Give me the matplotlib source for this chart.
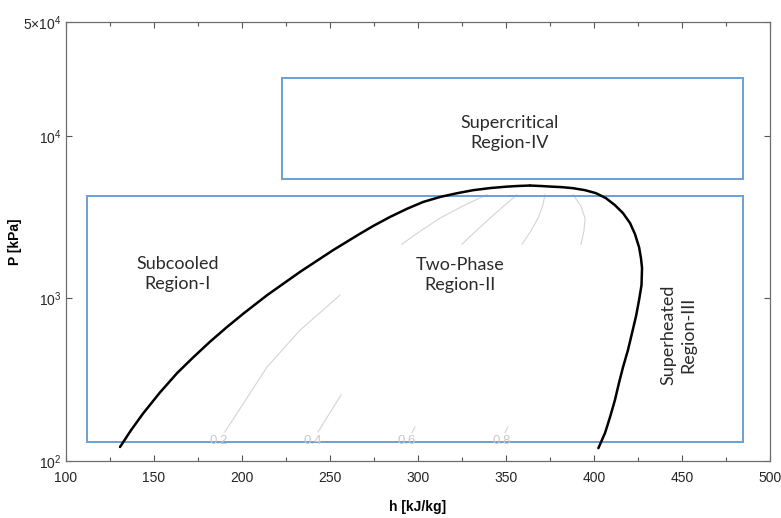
import numpy as np
import matplotlib
matplotlib.use("Agg")
import matplotlib.pyplot as plt
from matplotlib.patches import Rectangle
from matplotlib.ticker import FixedLocator, NullLocator

plt.rcParams['font.family'] = ['Liberation Sans', 'DejaVu Sans']
plt.rcParams['mathtext.default'] = 'regular'

# saturation dome (h in kJ/kg, P in kPa)
liq_h = [130.7, 137.0, 143.8, 153.4, 163.1, 172.3, 181.8, 191.3, 200.6, 214.2,
         233.0, 251.7, 267.0, 274.4, 284.0, 293.8, 303.0, 312.5, 322.0, 331.3,
         341.0, 350.6, 357.0, 363.6]
liq_p = [122, 155, 196, 264, 347, 434, 541, 664, 803, 1045,
         1455, 1977, 2495, 2780, 3162, 3556, 3917, 4200, 4426, 4624,
         4766, 4864, 4909, 4940]
vap_h = [363.6, 370.0, 376.1, 381.8, 388.1, 394.9, 401.1, 406.8, 411.9, 416.5,
         420.5, 423.3, 425.6, 426.7, 427.3, 427.0, 425.6, 423.9, 421.6, 419.3,
         416.5, 414.2, 411.9, 409.1, 406.3, 402.5]
vap_p = [4940, 4905, 4861, 4827, 4757, 4625, 4434, 4130, 3741, 3341,
         2900, 2482, 2065, 1767, 1535, 1206, 975, 778, 611, 481,
         378, 302, 237, 186, 149, 120]

# visible pieces of the quality lines
q_lower = {
    '0.2': ([190.3, 214.2, 233.0, 255.7], [151, 378, 638, 1047]),
    '0.4': ([243.2, 256.3], [151, 255]),
    '0.6': ([296.6, 298.3], [149, 162]),
    '0.8': ([349.4, 351.1], [149, 162]),
}
q_upper = {
    '0.2': ([290.9, 301.5, 312.5, 325.5, 339.2], [2154, 2600, 3112, 3700, 4340]),
    '0.4': ([325.0, 333.0, 340.9, 348.8, 356.3], [2154, 2600, 3112, 3700, 4340]),
    '0.6': ([359.1, 364.2, 368.2, 370.8, 372.2], [2154, 2600, 3112, 3700, 4340]),
    '0.8': ([392.6, 394.3, 394.9, 392.6, 388.1], [2154, 2600, 3112, 3700, 4340]),
}
q_label_h = [186.9, 240.3, 293.8, 347.7]
q_label_text = ['0.2', '0.4', '0.6', '0.8']
q_label_p = 132.7

# region boxes: (h_left, h_right, p_bottom, p_top)
box_main = (111.9, 484.7, 130.8, 4285)
box_super = (222.7, 484.7, 5450, 22700)

fig = plt.figure(figsize=(7.81, 5.18), dpi=100)
ax = fig.add_axes([0.0845, 0.110, 0.9014, 0.8475])

grey = '#d4d4d4'
for k in q_lower:
    ax.plot(*q_lower[k], color=grey, lw=0.8)
    ax.plot(*q_upper[k], color=grey, lw=0.8)
for h, t in zip(q_label_h, q_label_text):
    ax.text(h, q_label_p, t, color='#c8c8c8', fontsize=9.5,
            ha='center', va='center', zorder=5)

ax.plot(liq_h, liq_p, color='black', lw=1.8, solid_capstyle='round',
        solid_joinstyle='round', zorder=4)
ax.plot(vap_h, vap_p, color='black', lw=1.8, solid_capstyle='round',
        solid_joinstyle='round', zorder=4)

blue = '#6a9fd4'
for (h0, h1, p0, p1) in (box_main, box_super):
    ax.add_patch(Rectangle((h0, p0), h1 - h0, p1 - p0, fill=False,
                           edgecolor=blue, lw=1.4, zorder=3))

tfont = dict(family=['Lato', 'DejaVu Sans'], fontsize=13, color='#2b2b2b',
             ha='center', va='center', linespacing=1.3, zorder=6)
ax.text(352.3, 10350, 'Supercritical\nRegion-IV', **tfont)
ax.text(163.6, 1410, 'Subcooled\nRegion-I', **tfont)
ax.text(323.9, 1390, 'Two-Phase\nRegion-II', **tfont)
ax.text(447.7, 594, 'Superheated\nRegion-III', rotation=90, **tfont)

ax.set_yscale('log')
ax.set_xlim(100, 500)
ax.set_ylim(100, 5e4)

ax.xaxis.set_major_locator(FixedLocator(np.arange(100, 501, 50)))
ax.xaxis.set_minor_locator(FixedLocator(np.arange(125, 500, 50)))
ax.yaxis.set_major_locator(FixedLocator([1e2, 1e3, 1e4, 5e4]))
ax.yaxis.set_minor_locator(NullLocator())
ax.set_yticklabels(['$10^2$', '$10^3$', '$10^4$', r'$5{\times}10^4$'])
ax.tick_params(which='both', direction='in', top=True, right=True,
               colors='#555555', labelcolor='#262626', labelsize=10)
ax.tick_params(which='major', length=4, width=0.8)
ax.tick_params(which='minor', length=3, width=0.8)
ax.tick_params(axis='x', pad=7)
ax.tick_params(axis='y', pad=3)
for s in ax.spines.values():
    s.set_color('#6e6e6e')
    s.set_linewidth(0.9)

ax.set_xlabel('h [kJ/kg]', fontsize=10, fontweight='bold')
ax.set_ylabel('P [kPa]', fontsize=10, fontweight='bold')
ax.xaxis.set_label_coords(0.5, -0.088)
ax.yaxis.set_label_coords(-0.0625, 0.5)

fig.savefig('out.png', dpi=100)
